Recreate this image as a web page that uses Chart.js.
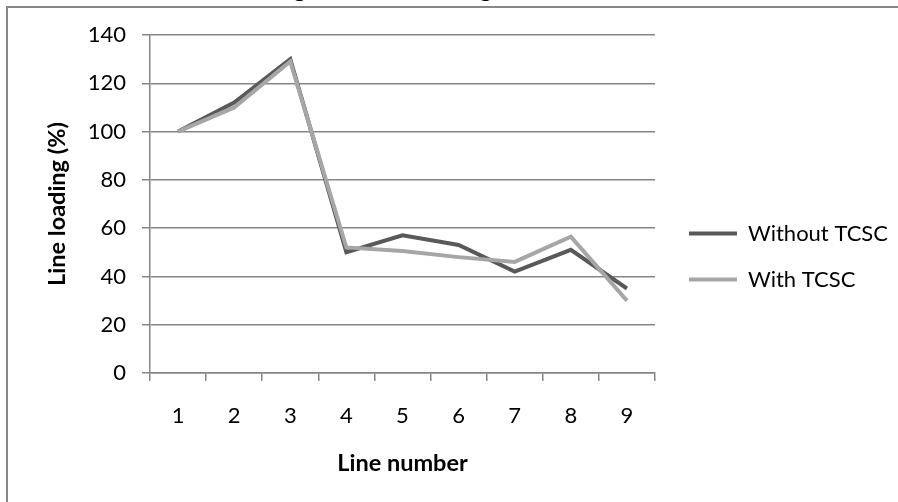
<!DOCTYPE html>
<html>
<head>
<meta charset="utf-8">
<script src="https://cdn.jsdelivr.net/npm/chart.js@4/dist/chart.umd.min.js"></script>
<style>
  html, body { margin: 0; padding: 0; background: #fff; overflow: hidden; }
  body { width: 898px; height: 502px; position: relative; }
  #frame {
    position: absolute; left: 6px; top: 6px; width: 1000px; height: 1000px;
    border-left: 2px solid #878787; border-top: 2px solid #878787;
  }
  #title {
    position: absolute; left: 180px; top: -25px;
    font: bold 23.5px Lato, sans-serif; line-height: 26px; color: #000;
    white-space: nowrap;
  }
  #wrap { position: absolute; left: 0; top: 0; width: 898px; height: 478px; }
</style>
</head>
<body>
<div id="frame"></div>
<div id="title">Line loading of each line using TCSC</div>
<div id="wrap"><canvas id="chart"></canvas></div>
<script>
// Line numbers along the x axis
var lineNumbers = ['1', '2', '3', '4', '5', '6', '7', '8', '9'];

// Line loading (%)
var withoutTCSC = [100, 112, 130, 50, 57, 53, 42, 51, 35];
var withTCSC = [100, 110, 129, 52, 50.5, 48, 46, 56.5, 30];

var gridColor = '#868686';
var fontFamily = 'Lato, sans-serif';

var ctx = document.getElementById('chart').getContext('2d');

new Chart(ctx, {
  type: 'line',
  data: {
    labels: lineNumbers,
    datasets: [{
      label: 'Without TCSC',
      data: withoutTCSC,
      borderColor: '#595959',
      backgroundColor: '#595959',
      borderWidth: 4,
      pointRadius: 0,
      tension: 0,
      order: 1
    }, {
      label: 'With TCSC',
      data: withTCSC,
      borderColor: '#a6a6a6',
      backgroundColor: '#a6a6a6',
      borderWidth: 4,
      pointRadius: 0,
      tension: 0,
      order: 0   // light line sits on top of the dark one
    }]
  },
  options: {
    responsive: true,
    maintainAspectRatio: false,
    animation: false,
    layout: { padding: { top: 35, right: 0, bottom: 0, left: 0 } },
    plugins: {
      legend: {
        position: 'right',
        maxWidth: 300,
        labels: {
          boxWidth: 48,
          boxHeight: 4,
          padding: 24,
          color: '#000',
          font: { family: fontFamily, size: 22 },
          generateLabels: function (chart) {
            // plain thick line swatches, no outline
            return chart.data.datasets.map(function (ds, i) {
              return {
                text: ds.label,
                fillStyle: ds.borderColor,
                strokeStyle: ds.borderColor,
                lineWidth: 0,
                hidden: false,
                datasetIndex: i
              };
            });
          }
        }
      },
      tooltip: { enabled: false }
    },
    scales: {
      x: {
        offset: true,
        grid: {
          offset: true,
          drawOnChartArea: false,
          drawTicks: true,
          tickLength: 8,
          color: gridColor,
          lineWidth: 1.5
        },
        border: { color: gridColor, width: 1.5 },
        ticks: {
          padding: 22,
          color: '#000',
          font: { family: fontFamily, size: 22 }
        },
        title: {
          display: true,
          text: 'Line number',
          color: '#000',
          font: { family: fontFamily, size: 23.5, weight: 'bold' },
          padding: { top: 0, bottom: 0 }
        },
        afterFit: function (scale) { scale.height = 105; }
      },
      y: {
        min: 0,
        max: 140,
        ticks: {
          stepSize: 20,
          padding: 16,
          color: '#000',
          font: { family: fontFamily, size: 22 }
        },
        grid: {
          color: gridColor,
          lineWidth: 1.5,
          tickLength: 8
        },
        border: { color: gridColor, width: 1.5 },
        title: {
          display: true,
          text: 'Line loading (%)',
          color: '#000',
          font: { family: fontFamily, size: 23.5, weight: 'bold' },
          padding: { top: 43, bottom: 0 }
        },
        afterFit: function (scale) { scale.width = 150; }
      },
      // empty right-hand axis: only keeps a gap between plot and legend
      gap: {
        type: 'linear',
        position: 'right',
        grid: { display: false },
        border: { display: false },
        ticks: { display: false },
        afterFit: function (scale) { scale.width = 10; }
      }
    }
  }
});
</script>
</body>
</html>
